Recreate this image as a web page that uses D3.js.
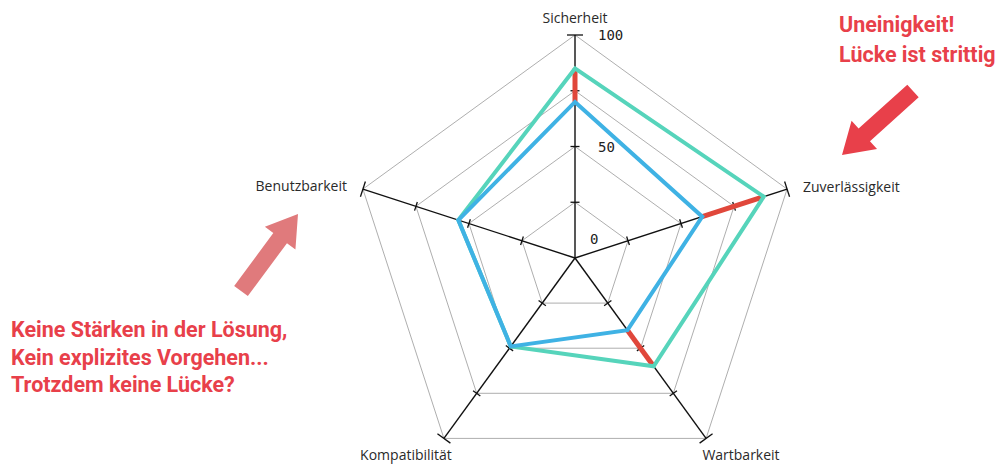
<!DOCTYPE html>
<html lang="de">
<head>
<meta charset="UTF-8">
<title>Radar</title>
<script src="https://d3js.org/d3.v7.min.js"></script>
<style>
  body { margin: 0; background: #fff; }
  svg { display: block; }
  .axis-label { font-family: "Open Sans", "DejaVu Sans", sans-serif; font-size: 14px; fill: #2a2a2a; }
  .tick-label { font-family: "DejaVu Sans Mono", monospace; font-size: 14px; fill: #222; }
  .note { font-family: Roboto, "DejaVu Sans", sans-serif; font-weight: 700; font-size: 21.5px; fill: #e8404a; }
</style>
</head>
<body>
<div id="chart"></div>
<script>
// Kategorien und Werte
const axes = ["Sicherheit", "Zuverlässigkeit", "Wartbarkeit", "Kompatibilität", "Benutzbarkeit"];
const seriesA = [85, 89, 60, 49, 55];   // türkis
const seriesB = [70, 60, 40, 49, 55];   // blau
const levels = [25, 50, 75, 100];
const tickLabels = [[100, "100"], [50, "50"], [0, "0"]];

const width = 1001, height = 465;
const cx = 575, cy = 258, R = 223;

const svg = d3.select("#chart").append("svg")
  .attr("width", width).attr("height", height);

const r = d3.scaleLinear().domain([0, 100]).range([0, R]);
const angle = i => -Math.PI / 2 + i * 2 * Math.PI / axes.length;
const pt = (i, v) => [cx + r(v) * Math.cos(angle(i)), cy + r(v) * Math.sin(angle(i))];

// Gitter
levels.forEach(l => {
  svg.append("path")
    .attr("d", d3.line()(axes.map((a, i) => pt(i, l))) + "Z")
    .attr("fill", "none").attr("stroke", "#999").attr("stroke-width", 0.8);
});

// Achsen
axes.forEach((a, i) => {
  const [x2, y2] = pt(i, 100);
  svg.append("line").attr("x1", cx).attr("y1", cy).attr("x2", x2).attr("y2", y2)
    .attr("stroke", "#111").attr("stroke-width", 1.4);
  levels.forEach(l => {
    const [px, py] = pt(i, l);
    const half = l === 100 ? 8 : 4.5;
    const nx = -Math.sin(angle(i)), ny = Math.cos(angle(i));
    svg.append("line")
      .attr("x1", px - nx * half).attr("y1", py - ny * half)
      .attr("x2", px + nx * half).attr("y2", py + ny * half)
      .attr("stroke", "#111").attr("stroke-width", 1.3);
  });
});

// Skalenbeschriftung
tickLabels.forEach(([v, t]) => {
  svg.append("text").attr("class", "tick-label")
    .attr("x", cx + (v === 0 ? 15 : 23))
    .attr("y", cy - r(v) + (v === 0 ? -14 : 5))
    .text(t);
});

// Differenzen (rot)
axes.forEach((a, i) => {
  if (seriesA[i] === seriesB[i]) return;
  const p1 = pt(i, seriesA[i]), p2 = pt(i, seriesB[i]);
  svg.append("line").attr("x1", p1[0]).attr("y1", p1[1]).attr("x2", p2[0]).attr("y2", p2[1])
    .attr("stroke", "#e0473b").attr("stroke-width", 5);
});

const poly = vals => d3.line()(vals.map((v, i) => pt(i, v))) + "Z";
svg.append("path").attr("d", poly(seriesA))
  .attr("fill", "none").attr("stroke", "#56d4bb").attr("stroke-width", 4).attr("stroke-linejoin", "miter");
svg.append("path").attr("d", poly(seriesB))
  .attr("fill", "none").attr("stroke", "#3fb2e4").attr("stroke-width", 4).attr("stroke-linejoin", "miter");

// Achsenbeschriftung
const labelPos = [
  { x: cx, y: 23, anchor: "middle" },
  { x: 803, y: 192, anchor: "start" },
  { x: 741, y: 460, anchor: "middle" },
  { x: 406, y: 460, anchor: "middle" },
  { x: 347, y: 191, anchor: "end" }
];
axes.forEach((a, i) => {
  svg.append("text").attr("class", "axis-label")
    .attr("x", labelPos[i].x).attr("y", labelPos[i].y)
    .attr("text-anchor", labelPos[i].anchor).text(a);
});

// Anmerkungen
const notesRight = ["Uneinigkeit!", "Lücke ist strittig"];
const notesLeft = ["Keine Stärken in der Lösung,", "Kein explizites Vorgehen...", "Trotzdem keine Lücke?"];
notesRight.forEach((t, i) => {
  svg.append("text").attr("class", "note").attr("x", 839).attr("y", 32 + i * 30).text(t);
});
notesLeft.forEach((t, i) => {
  svg.append("text").attr("class", "note").attr("x", 11).attr("y", 337 + i * 27.5).text(t);
});

// Pfeile
function arrow(x1, y1, x2, y2, color) {
  const len = Math.hypot(x2 - x1, y2 - y1);
  const a = Math.atan2(y2 - y1, x2 - x1) * 180 / Math.PI;
  const sw = 8.5, hw = 19, hl = 30;
  const g = svg.append("g").attr("transform", `translate(${x1},${y1}) rotate(${a})`);
  g.append("path")
    .attr("d", `M0,${-sw} L${len - hl},${-sw} L${len - hl},${-hw} L${len},0 L${len - hl},${hw} L${len - hl},${sw} L0,${sw} Z`)
    .attr("fill", color);
}
arrow(913, 91, 842, 155, "#e8404a");
arrow(241, 291, 298, 214, "#e07a7c");
</script>
</body>
</html>
